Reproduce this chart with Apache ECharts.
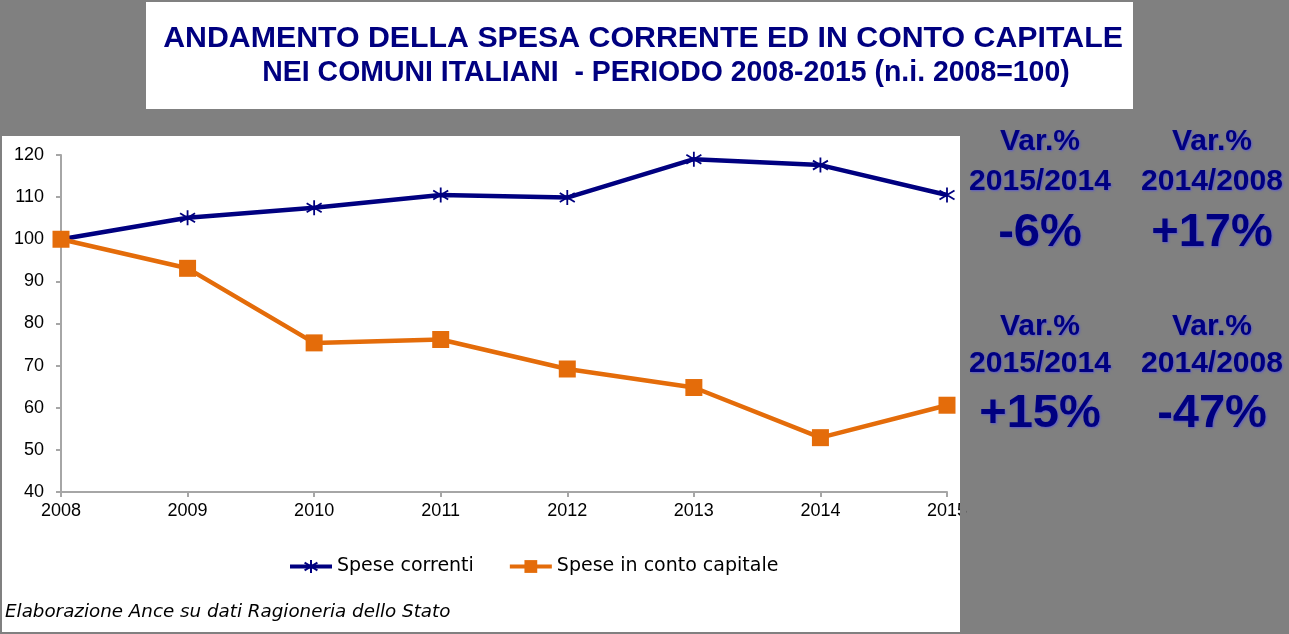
<!DOCTYPE html>
<html><head><meta charset="utf-8">
<script src="https://cdn.jsdelivr.net/npm/echarts@6/dist/echarts.min.js"></script>
<style>html,body{margin:0;padding:0;background:#808080}#c{width:1289px;height:634px}</style>
</head><body><div id="c"></div>
<script>
const years = ['2008','2009','2010','2011','2012','2013','2014','2015'];
const speseCorrenti = [100, 105.1, 107.5, 110.5, 109.9, 119.0, 117.6, 110.5];
const speseCapitale = [100, 93.1, 75.4, 76.2, 69.2, 64.8, 52.9, 60.6];
const seriesNames = ['Spese correnti', 'Spese in conto capitale'];
const titleLines = ['ANDAMENTO DELLA SPESA CORRENTE ED IN CONTO CAPITALE', 'NEI COMUNI ITALIANI  - PERIODO 2008-2015 (n.i. 2008=100)'];
const varLabels = [['Var.%', '2015/2014', '-6%'], ['Var.%', '2014/2008', '+17%'], ['Var.%', '2015/2014', '+15%'], ['Var.%', '2014/2008', '-47%']];
const footer = 'Elaborazione Ance su dati Ragioneria dello Stato';

const FONT = '"Liberation Sans", Arial, sans-serif';
const WIDE = '"DejaVu Sans", sans-serif';
const NAVY = '#000080';
const ORANGE = '#E46C0A';
const chart = echarts.init(document.getElementById('c'));

const cols = [1040, 1212];
const rows = [[142, 182, 233], [327, 364, 414]];
const annot = [];
varLabels.forEach((v, i) => {
  const cx = cols[i % 2], ry = rows[Math.floor(i / 2)];
  v.forEach((t, j) => {
    annot.push({
      type: 'text', x: cx, y: ry[j], z: 20,
      style: {
        text: t, fill: NAVY, font: 'bold ' + (j === 2 ? 47 : 30) + 'px ' + FONT,
        align: 'center', verticalAlign: 'middle',
        textShadowColor: 'rgba(90,90,210,0.9)', textShadowBlur: 2, textShadowOffsetX: 1, textShadowOffsetY: 1
      }
    });
  });
});

const asterisk = 'path://M0,-10L0,10M-8,-6L8,6M-8,6L8,-6';

chart.setOption({
  animation: false,
  backgroundColor: '#808080',
  graphic: [
    { type: 'rect', shape: { x: 146, y: 2, width: 987, height: 107 }, style: { fill: '#fff' }, z: -10 },
    { type: 'rect', shape: { x: 2, y: 136, width: 958, height: 496 }, style: { fill: '#fff' }, z: -10 },
    { type: 'text', x: 643, y: 39, scaleX: 1.045, z: 10, style: { text: titleLines[0], fill: NAVY, font: 'bold 29px ' + FONT, align: 'center', verticalAlign: 'middle' } },
    { type: 'text', x: 666, y: 73, scaleX: 0.98, z: 10, style: { text: titleLines[1], fill: NAVY, font: 'bold 29px ' + FONT, align: 'center', verticalAlign: 'middle' } },
    { type: 'text', x: 5, y: 612, z: 10, style: { text: footer, fill: '#000', font: 'oblique 18.3px ' + WIDE, align: 'left', verticalAlign: 'middle' } },
    { type: 'rect', shape: { x: 960, y: 496, width: 6, height: 30 }, style: { fill: '#808080' }, z: 100 }
  ].concat(annot),
  grid: { left: 61, right: 342, top: 155, bottom: 142, containLabel: false },
  legend: {
    left: 283, top: 552, itemWidth: 42, itemHeight: 16, itemGap: 34,
    lineStyle: { width: 4 },
    textStyle: { fontFamily: WIDE, fontSize: 19, color: '#000' },
    data: seriesNames
  },
  xAxis: {
    type: 'category', data: years, boundaryGap: false,
    axisLine: { lineStyle: { color: '#a6a6a6', width: 2 } },
    axisTick: { show: true, length: 5, lineStyle: { color: '#a6a6a6', width: 2 } },
    axisLabel: { fontFamily: FONT, fontSize: 18, color: '#000', margin: 10 },
    splitLine: { show: false }
  },
  yAxis: {
    type: 'value', min: 40, max: 120, interval: 10,
    axisLine: { show: true, lineStyle: { color: '#a6a6a6', width: 2 } },
    axisTick: { show: true, length: 5, lineStyle: { color: '#a6a6a6', width: 2 } },
    axisLabel: { fontFamily: FONT, fontSize: 18, color: '#000', margin: 17 },
    splitLine: { show: false }
  },
  series: [
    {
      name: seriesNames[0], type: 'line', data: speseCorrenti,
      symbol: asterisk, symbolSize: 15, showAllSymbol: true,
      lineStyle: { color: NAVY, width: 4.5 },
      itemStyle: { color: NAVY, borderColor: NAVY, borderWidth: 1.8 }
    },
    {
      name: seriesNames[1], type: 'line', data: speseCapitale,
      symbol: 'rect', symbolSize: 17, showAllSymbol: true,
      lineStyle: { color: ORANGE, width: 4.5 },
      itemStyle: { color: ORANGE }
    }
  ]
});
</script></body></html>
